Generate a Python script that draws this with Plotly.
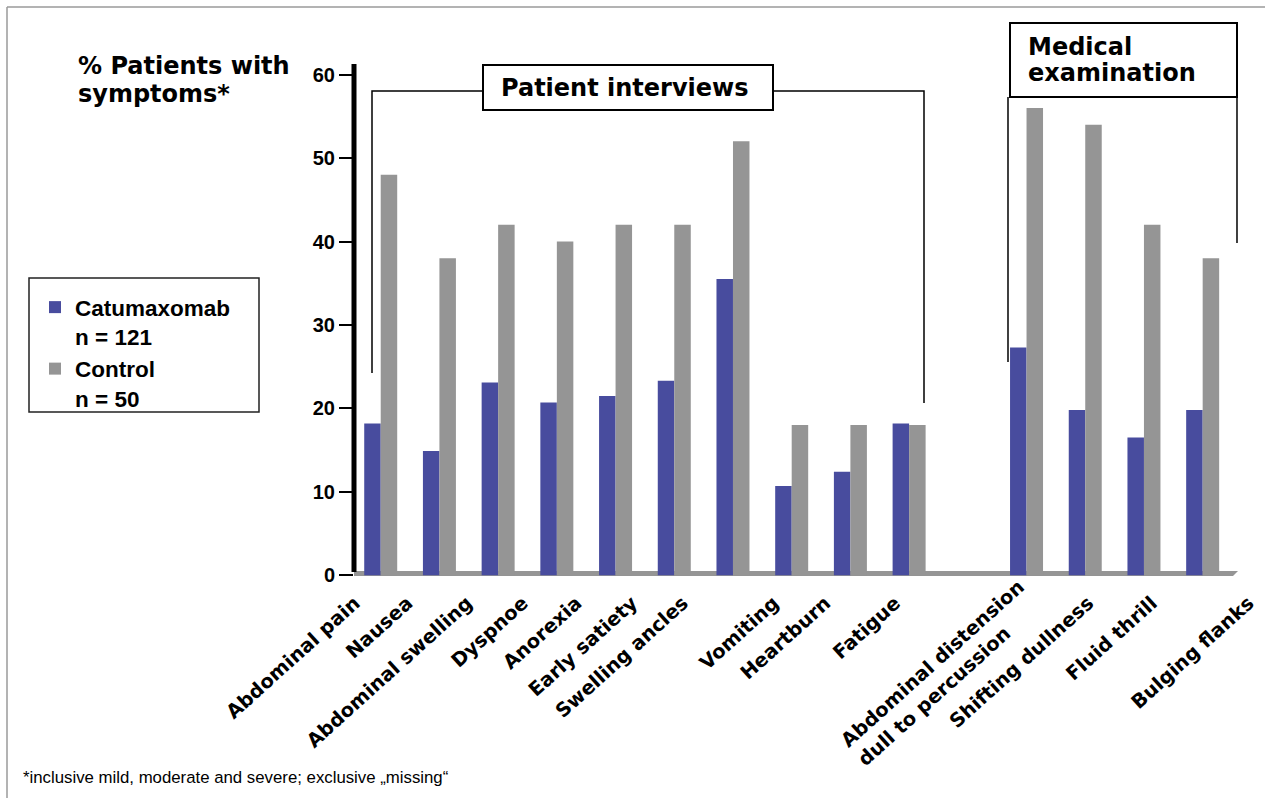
import plotly.graph_objects as go

# Symptoms, grouped as reported in patient interviews and found on medical examination
categories = [
    "Abdominal pain", "Nausea", "Abdominal swelling", "Dyspnoe", "Anorexia",
    "Early satiety", "Swelling ancles", "Vomiting", "Heartburn", "Fatigue",
    "Abdominal distension<br>dull to percussion", "Shifting dullness",
    "Fluid thrill", "Bulging flanks",
]
# slot of each symptom on the x axis (slot 10 stays empty between the two groups)
slots = [0, 1, 2, 3, 4, 5, 6, 7, 8, 9, 11, 12, 13, 14]

# % patients with symptoms
catumaxomab = [18.2, 14.9, 23.1, 20.7, 21.5, 23.3, 35.5, 10.7, 12.4, 18.2,
               27.3, 19.8, 16.5, 19.8]
control = [48, 38, 42, 40, 42, 42, 52, 18, 18, 18, 56, 54, 42, 38]

y_ticks = [0, 10, 20, 30, 40, 50, 60]

BLUE = "#484C9E"
GREY = "#959595"

W, H = 1265, 798
ML, MR, MT, MB = 354, 0, 62, 218
PW, PH = W - ML - MR, H - MT - MB
X_MIN = -0.455
SLOT_PX = (1246.7 - ML) / (14.75 - X_MIN)
X_MAX = X_MIN + PW / SLOT_PX


def px(x):
    """pixel column -> paper x"""
    return (x - ML) / PW


def py(y):
    """pixel row -> paper y"""
    return (H - MB - y) / PH


def path(points):
    return "M " + " L ".join(f"{px(a):.5f},{py(b):.5f}" for a, b in points)


LABEL_FONT = dict(family="DejaVu Sans", size=19.5, color="black", weight="bold")
LABEL_ANGLE = -42

# hand placement of the slanted category labels (pixel nudge along x)
label_nudge_px = [-26, -32, -31, -34, -39, -42, -50, -18, -25, -14, 0, 3, 8, 46]
label_pos = [s + d / SLOT_PX for s, d in zip(slots, label_nudge_px)]
# two-line labels are set as separate, flush-left slanted text blocks
label_text = ["" if "<br>" in c else c for c in categories]
block_labels = [dict(text=c, x=px(941), y=py(673))
                for c in categories if "<br>" in c]

fig = go.Figure()
fig.add_trace(go.Bar(
    x=slots, y=catumaxomab, name="Catumaxomab<br>n = 121",
    marker=dict(color=BLUE, line=dict(width=0)),
))
fig.add_trace(go.Bar(
    x=slots, y=control, name="Control<br>n = 50",
    marker=dict(color=GREY, line=dict(width=0)),
))

line_k = dict(color="black", width=1.5)
frame = dict(color="#9a9a9a", width=1.5)
shapes = [
    # outer frame (top and left edges)
    dict(type="line", xref="paper", yref="paper", x0=px(7), x1=px(W), y0=py(7), y1=py(7), line=frame),
    dict(type="line", xref="paper", yref="paper", x0=px(7), x1=px(7), y0=py(7), y1=py(H), line=frame),
    # floor of the chart
    dict(type="path", xref="paper", yref="paper", layer="below",
         path=path([(354, 571), (1238, 571), (1233, 576), (354, 576)]) + " Z",
         fillcolor=GREY, line=dict(width=0)),
    # heavy value axis
    dict(type="line", xref="paper", yref="paper", x0=px(354), x1=px(354), y0=py(64), y1=py(572),
         line=dict(color="black", width=5)),
    # "Patient interviews" bracket and box
    dict(type="path", xref="paper", yref="paper", path=path([(372, 373), (372, 91), (483, 91)]), line=line_k),
    dict(type="path", xref="paper", yref="paper", path=path([(773, 91), (924, 91), (924, 403)]), line=line_k),
    dict(type="rect", xref="paper", yref="paper", x0=px(483), x1=px(773), y0=py(65), y1=py(110),
         line=dict(color="black", width=2), fillcolor="white"),
    # "Medical examination" bracket and box
    dict(type="path", xref="paper", yref="paper", path=path([(1008, 362), (1008, 97)]), line=line_k),
    dict(type="path", xref="paper", yref="paper", path=path([(1237, 97), (1237, 243)]), line=line_k),
    dict(type="rect", xref="paper", yref="paper", x0=px(1010), x1=px(1237), y0=py(23), y1=py(97),
         line=dict(color="black", width=2), fillcolor="rgba(0,0,0,0)"),
    # legend frame
    dict(type="rect", xref="paper", yref="paper", x0=px(29), x1=px(259), y0=py(278), y1=py(412),
         line=dict(color="#222222", width=1.5), fillcolor="rgba(0,0,0,0)"),
]

head = dict(family="DejaVu Sans", size=24, color="black")
annotations = [
    dict(text="<b>% Patients with</b>", x=px(76), y=py(65.5)),
    dict(text="<b>symptoms*</b>", x=px(76), y=py(93.5)),
    dict(text="<b>Patient interviews</b>", x=px(499), y=py(87.7)),
    dict(text="<b>Medical</b>", x=px(1026), y=py(46.7)),
    dict(text="<b>examination</b>", x=px(1026), y=py(73.4)),
]
for a in annotations:
    a.update(xref="paper", yref="paper", xanchor="left", yanchor="middle",
             showarrow=False, font=head)
for b in block_labels:
    b.update(xref="paper", yref="paper", xanchor="center", yanchor="middle",
             align="left", textangle=LABEL_ANGLE, showarrow=False, font=LABEL_FONT)
    annotations.append(b)
annotations.append(dict(
    text="*inclusive mild, moderate and severe; exclusive \u201emissing\u201c",
    xref="paper", yref="paper", x=px(21), y=py(777), xanchor="left", yanchor="middle",
    showarrow=False, font=dict(family="Liberation Sans", size=16.8, color="black"),
))

fig.update_layout(
    width=W, height=H,
    margin=dict(l=ML, r=MR, t=MT, b=MB, pad=0),
    paper_bgcolor="white", plot_bgcolor="white",
    barmode="group", bargap=0.438, bargroupgap=0,
    shapes=shapes, annotations=annotations,
    showlegend=True,
    legend=dict(
        x=px(35), y=py(286), xanchor="left", yanchor="top",
        bgcolor="rgba(0,0,0,0)", borderwidth=0, valign="top",
        font=dict(family="Liberation Sans", size=22.5, color="black", weight="bold"),
        traceorder="normal", itemclick=False, itemdoubleclick=False,
    ),
    xaxis=dict(
        range=[X_MIN, X_MAX], tickmode="array", tickvals=label_pos, ticktext=label_text,
        tickangle=LABEL_ANGLE, ticks="", showline=False, showgrid=False, zeroline=False,
        ticklabelstandoff=7, tickfont=LABEL_FONT,
    ),
    yaxis=dict(
        range=[-0.563, 61.51], tickmode="array", tickvals=y_ticks,
        ticks="outside", ticklen=14, tickwidth=1.5, tickcolor="black",
        showline=False, showgrid=False, zeroline=False,
        tickfont=dict(family="Liberation Sans", size=20, color="black", weight="bold"),
    ),
)

fig.write_html("out.html")
